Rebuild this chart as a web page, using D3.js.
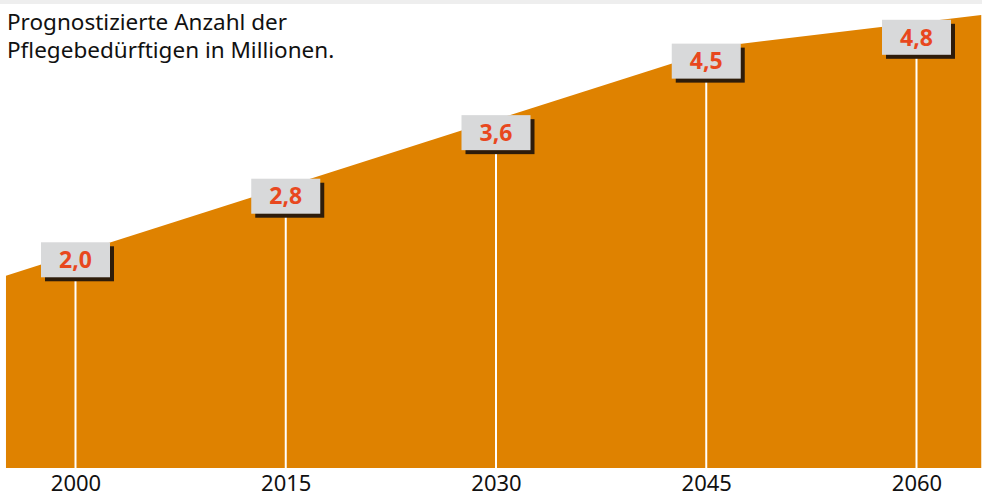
<!DOCTYPE html>
<html><head><meta charset="utf-8">
<script src="https://cdn.jsdelivr.net/npm/d3@7"></script>
<style>
html,body{margin:0;padding:0;background:#fff;}
svg{display:block;}
</style></head>
<body>
<svg id="chart" width="982" height="498"></svg>
<script>
// Data
const years = [2000, 2015, 2030, 2045, 2060];
const values = [2.0, 2.8, 3.6, 4.5, 4.8];
const valueLabels = ["2,0", "2,8", "3,6", "4,5", "4,8"];
const areaYears = [1995.04, 2046.65, 2064.62];
const areaValues = [1.80, 4.70, 5.08];
const titleLines = ["Prognostizierte Anzahl der", "Pflegebedürftigen in Millionen."];

const W = 982, H = 498, baseY = 468;
const svg = d3.select("#chart");

const x = d3.scaleLinear().domain([2000, 2060]).range([75.5, 916.5]);
const y = d3.scaleLinear().domain([0, 5]).range([418.7, 21.4]);

// top band
svg.append("rect").attr("x", 0).attr("y", 0).attr("width", W).attr("height", 4).attr("fill", "#eeeeee");

// area
const areaData = areaYears.map((d, i) => ({year: d, value: areaValues[i]}));
svg.append("path")
  .datum(areaData)
  .attr("fill", "#df8200")
  .attr("d", d3.area().x(d => x(d.year)).y0(baseY).y1(d => y(d.value)));

// labels data
const pts = years.map((d, i) => ({year: d, value: values[i], label: valueLabels[i]}));
const boxW = 69, boxH = 35;

// white lines
svg.selectAll("line.stem").data(pts).join("line")
  .attr("class", "stem")
  .attr("x1", d => x(d.year)).attr("x2", d => x(d.year))
  .attr("y1", d => y(d.value) + boxH / 2).attr("y2", baseY)
  .attr("stroke", "#fff").attr("stroke-width", 2);

const g = svg.selectAll("g.lab").data(pts).join("g")
  .attr("class", "lab")
  .attr("transform", d => `translate(${x(d.year)},${y(d.value)})`);
g.append("rect")
  .attr("x", -boxW / 2 + 4).attr("y", -boxH / 2 + 4)
  .attr("width", boxW).attr("height", boxH).attr("fill", "#2e1c0a");
g.append("rect")
  .attr("x", -boxW / 2).attr("y", -boxH / 2)
  .attr("width", boxW).attr("height", boxH).attr("fill", "#d8d9da");
g.append("text")
  .attr("text-anchor", "middle").attr("dy", "0.36em")
  .attr("font-family", "'Noto Sans', sans-serif").attr("font-weight", "bold")
  .attr("font-size", 23).attr("fill", "#e8481e")
  .text(d => d.label);

// axis
const axis = svg.append("g").attr("transform", `translate(0,${baseY})`)
  .call(d3.axisBottom(x).tickValues(years).tickFormat(d3.format("d")).tickSize(0).tickPadding(7));
axis.select(".domain").remove();
axis.selectAll("text").attr("font-family", "'Noto Sans', sans-serif").attr("font-size", 22).attr("fill", "#111");

// title
svg.append("g").selectAll("text").data(titleLines).join("text")
  .attr("x", 7).attr("y", (d, i) => 30 + i * 28)
  .attr("font-family", "'Noto Sans', sans-serif").attr("font-size", 22.5).attr("fill", "#111")
  .text(d => d);
</script>
</body></html>
